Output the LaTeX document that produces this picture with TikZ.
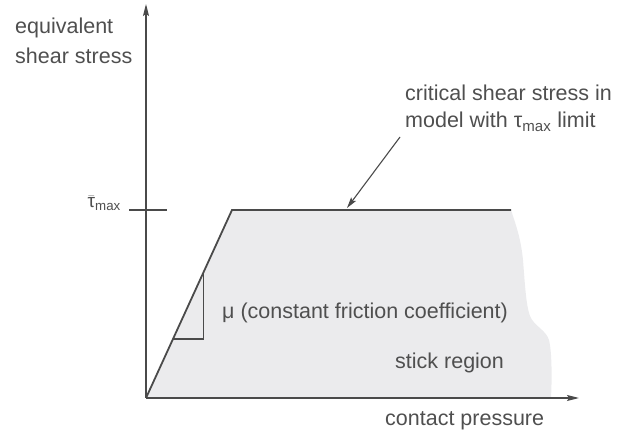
\documentclass[tikz,border=0pt]{standalone}
\usepackage{fontspec}
\setmainfont{Liberation Sans}
\usetikzlibrary{arrows.meta}
\definecolor{ink}{HTML}{4A4A4A}
\definecolor{txt}{HTML}{4F4F4F}
\definecolor{region}{HTML}{EBEBED}
\newcommand{\taumaxbar}{$\bar{\mbox{τ}}$\textsubscript{max}}
\begin{document}
\begin{tikzpicture}[x=1pt,y=-1pt,
  axis/.style={draw=ink,line width=1.3pt,-{Stealth[length=12pt,width=6pt,inset=2pt]}},
  curve/.style={draw=ink,line width=1.8pt},
  thin/.style={draw=ink,line width=1.1pt},
  lbl/.style={text=txt,font=\fontsize{21.5}{27}\selectfont,inner sep=0pt,anchor=base west},
  pointer/.style={draw=ink,line width=1.1pt,-{Stealth[length=11pt,width=6pt,inset=2pt]}}]
\useasboundingbox (0,0) rectangle (625,433);
% key points
\coordinate (O) at (146,398);
\coordinate (ytop) at (146,4);
\coordinate (xend) at (579,398);
\coordinate (knee) at (232,210);
\coordinate (flat) at (511,210);
% stick region
\fill[region] (O) -- (knee) -- (flat)
  .. controls (517,228) and (521,240) .. (523,260)
  .. controls (525,285) and (526,305) .. (530,316)
  .. controls (534,326) and (546,330) .. (549,340)
  .. controls (552,352) and (552,380) .. (551,398) -- cycle;
% axes
\draw[axis] (O) -- (ytop);
\draw[axis] (O) -- (xend);
% tau_max tick
\coordinate (tickL) at (129,210);
\coordinate (tickR) at (167,210);
\draw[thin] (tickL) -- (tickR);
% critical shear stress curve
\draw[curve] (O) -- (knee) -- (flat);
% slope triangle
\coordinate (triTop) at (203.5,272);
\coordinate (triCorner) at (203.5,339);
\coordinate (triLeft) at (173,339);
\draw[thin] (triTop) -- (triCorner) -- (triLeft);
% labels
\node[lbl] (ylab1) at (15,34) {equivalent};
\node[lbl] (ylab2) at (15,64) {shear stress};
\node[lbl] (xlab) at (385,425) {contact pressure};
\node[lbl,anchor=base east,font=\fontsize{19}{22}\selectfont] (taulab) at (121,208) {\taumaxbar};
\node[lbl] (crit1) at (405,101) {critical shear stress in};
\node[lbl] (crit2) at (405,128) {model with τ\textsubscript{max} limit};
\node[lbl] (mu) at (222,319) {μ (constant friction coefficient)};
\node[lbl] (stick) at (395,369) {stick region};
% pointer from the note to the plateau
\coordinate (ptail) at (400,137);
\coordinate (hit) at (347,208);
\draw[pointer] (ptail) -- (hit);
\end{tikzpicture}
\end{document}
